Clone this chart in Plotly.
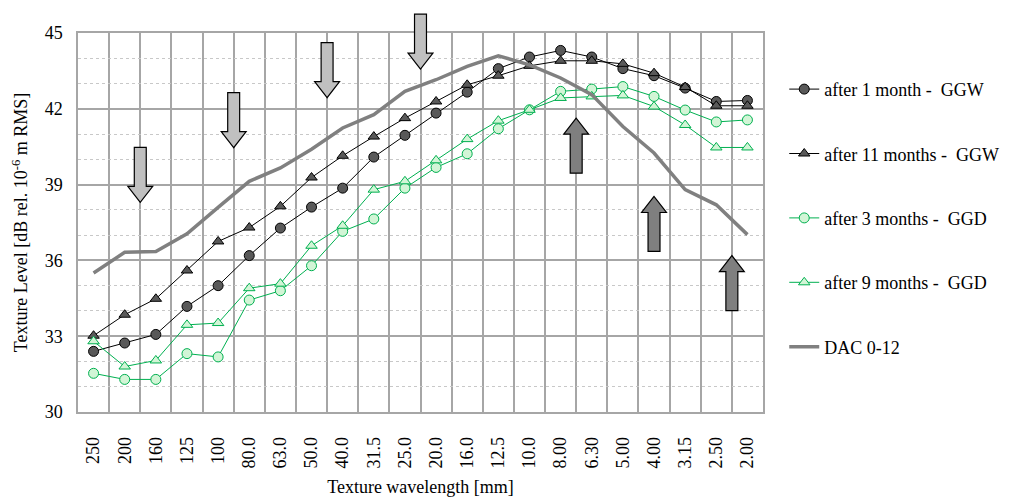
import plotly.graph_objects as go

# Texture wavelength bands (mm), largest to smallest
wavelengths = ["250", "200", "160", "125", "100", "80.0", "63.0", "50.0", "40.0", "31.5", "25.0",
               "20.0", "16.0", "12.5", "10.0", "8.00", "6.30", "5.00", "4.00", "3.15", "2.50", "2.00"]

ggw_1_month = [32.40, 32.73, 33.07, 34.18, 35.00, 36.19, 37.28, 38.11, 38.86, 40.09, 40.95,
               41.83, 42.66, 43.59, 44.05, 44.31, 44.05, 43.59, 43.31, 42.82, 42.29, 42.33]
ggw_11_months = [33.02, 33.85, 34.48, 35.60, 36.75, 37.30, 38.14, 39.28, 40.14, 40.90, 41.63,
                 42.29, 42.95, 43.31, 43.70, 43.90, 43.90, 43.78, 43.41, 42.86, 42.12, 42.12]
ggd_3_months = [31.53, 31.29, 31.29, 32.31, 32.18, 34.43, 34.80, 35.79, 37.15, 37.64, 38.86,
                39.68, 40.22, 41.21, 41.96, 42.69, 42.78, 42.88, 42.49, 41.95, 41.48, 41.56]
ggd_9_months = [32.80, 31.80, 32.04, 33.45, 33.52, 34.90, 35.08, 36.58, 37.37, 38.80, 39.13,
                39.96, 40.80, 41.53, 41.96, 42.43, 42.49, 42.53, 42.09, 41.36, 40.47, 40.47]
dac_0_12 = [35.50, 36.32, 36.35, 37.05, 38.10, 39.13, 39.66, 40.40, 41.24, 41.77, 42.69,
            43.15, 43.68, 44.10, 43.74, 43.22, 42.56, 41.30, 40.25, 38.80, 38.20, 37.02]

# Arrow markers: position along the band axis (index) and level of the arrow tip
down_arrow_pos = [1.5, 4.5, 7.5, 10.5]
down_arrow_tip = [38.30, 40.46, 42.44, 43.57]
up_arrow_pos = [15.5, 18.0, 20.5]
up_arrow_tip = [41.63, 38.53, 36.19]

Y_MIN, Y_MAX = 30, 45
idx = list(range(len(wavelengths)))

GREEN = "#00B050"
FONT = "Liberation Serif"
FS = 18

fig = go.Figure()

fig.add_trace(go.Scatter(
    x=idx, y=ggw_1_month, name="after 1 month -\u00a0 GGW", mode="lines+markers",
    line=dict(color="black", width=1),
    marker=dict(symbol="circle", size=10, color="#595959", line=dict(color="black", width=1)),
    legendgroup="a"))
fig.add_trace(go.Scatter(
    x=idx, y=ggw_11_months, name="after 11 months -\u00a0 GGW", mode="lines+markers",
    line=dict(color="black", width=1),
    marker=dict(symbol="triangle-up", size=10, color="#595959", line=dict(color="black", width=1)),
    legendgroup="b"))
fig.add_trace(go.Scatter(
    x=idx, y=ggd_3_months, name="after 3 months -\u00a0 GGD", mode="lines+markers",
    line=dict(color=GREEN, width=1),
    marker=dict(symbol="circle", size=10, color="#d2f5d6", line=dict(color=GREEN, width=1)),
    legendgroup="c"))
fig.add_trace(go.Scatter(
    x=idx, y=ggd_9_months, name="after 9 months -\u00a0 GGD", mode="lines+markers",
    line=dict(color=GREEN, width=1),
    marker=dict(symbol="triangle-up", size=10, color="#d2f5d6", line=dict(color=GREEN, width=1)),
    legendgroup="d"))
fig.add_trace(go.Scatter(
    x=idx, y=dac_0_12, name="DAC 0-12", mode="lines",
    line=dict(color="#808080", width=3.5),
    legendgroup="e"))

# Block arrows, built in paper coordinates from band index and level
N = len(wavelengths)
PLOT_W, PLOT_H = 688.0, 379.0
shaft_hw = 6.0 / PLOT_W
head_hw = 12.5 / PLOT_W
head_len = 16.0 / PLOT_H
arrow_len = 55.0 / PLOT_H


def to_paper_x(i):
    return (i + 0.5) / N


def to_paper_y(v):
    return (v - Y_MIN) / (Y_MAX - Y_MIN)


def arrow_path(xt, yt, direction):
    # direction = +1 for an arrow pointing up (tail below tip), -1 for pointing down
    s = -direction
    pts = [
        (xt, yt),
        (xt - head_hw, yt + s * head_len),
        (xt - shaft_hw, yt + s * head_len),
        (xt - shaft_hw, yt + s * arrow_len),
        (xt + shaft_hw, yt + s * arrow_len),
        (xt + shaft_hw, yt + s * head_len),
        (xt + head_hw, yt + s * head_len),
    ]
    return "M" + " L".join(f"{px:.5f},{py:.5f}" for px, py in pts) + " Z"


shapes = []
for pos, tip in zip(down_arrow_pos, down_arrow_tip):
    shapes.append(dict(type="path", xref="paper", yref="paper",
                       path=arrow_path(to_paper_x(pos), to_paper_y(tip), -1),
                       fillcolor="#c0c0c0", line=dict(color="black", width=1.2), layer="above"))
for pos, tip in zip(up_arrow_pos, up_arrow_tip):
    shapes.append(dict(type="path", xref="paper", yref="paper",
                       path=arrow_path(to_paper_x(pos), to_paper_y(tip), 1),
                       fillcolor="#7f7f7f", line=dict(color="black", width=1.2), layer="above"))

GRID = "#a6a6a6"

fig.update_layout(
    width=1016, height=499,
    margin=dict(l=78, r=250, t=33, b=87),
    paper_bgcolor="white", plot_bgcolor="white",
    font=dict(family=FONT, color="black", size=FS),
    shapes=shapes,
    showlegend=True,
    legend=dict(x=1.031, xanchor="left", y=0.9, yanchor="top",
                font=dict(family=FONT, size=FS, color="black"),
                tracegroupgap=38, itemwidth=30, bgcolor="rgba(0,0,0,0)"),
    xaxis=dict(
        range=[-0.5, N - 0.5], tickmode="array", tickvals=idx, ticktext=wavelengths,
        tickangle=-90, showgrid=False, zeroline=False, ticks="", automargin=False,
        tickfont=dict(family=FONT, size=FS, color="black"),
        ticklabelstandoff=16,
        showline=True, mirror=True, linecolor=GRID, linewidth=1.5,
        minor=dict(tickmode="array", tickvals=[i - 0.5 for i in range(N + 1)],
                   showgrid=True, gridcolor=GRID, gridwidth=1.5, ticks=""),
        title=dict(text="Texture wavelength [mm]", font=dict(family=FONT, size=FS, color="black"),
                   standoff=13),
    ),
    yaxis=dict(
        range=[Y_MIN, Y_MAX], tick0=30, dtick=3, showgrid=True, gridcolor=GRID, gridwidth=1.5,
        zeroline=False, ticks="", automargin=False,
        tickfont=dict(family=FONT, size=FS, color="black"),
        ticklabelstandoff=10,
        showline=True, mirror=True, linecolor=GRID, linewidth=1.5,
        minor=dict(dtick=1, showgrid=True, gridcolor="#c8c8c8", gridwidth=1, griddash="dot", ticks=""),
        title=dict(text="Texture Level [dB rel. 10<sup>-6</sup> m RMS]",
                   font=dict(family=FONT, size=FS, color="black"), standoff=12),
    ),
)

fig.write_html("out.html")
